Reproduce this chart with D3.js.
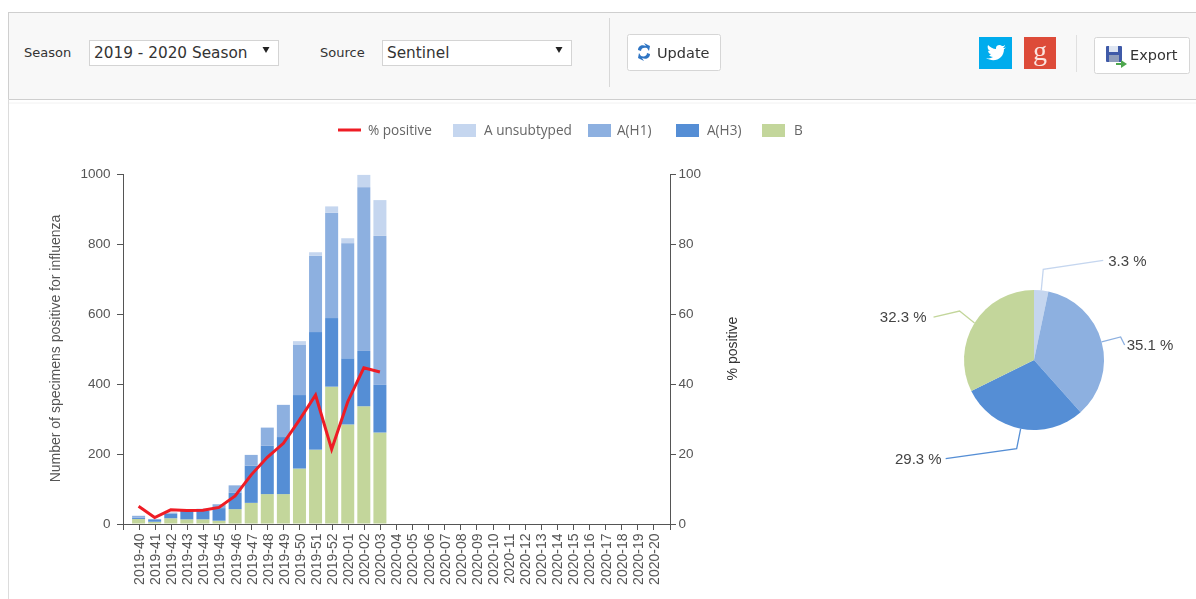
<!DOCTYPE html>
<html>
<head>
<meta charset="utf-8">
<title>Influenza positive specimens</title>
<script src="https://cdn.jsdelivr.net/npm/d3@7"></script>
<style>
  html, body { margin: 0; padding: 0; background: #fff; overflow: hidden; }
  svg { display: block; filter: blur(0.55px); }
  .ui { font-family: "DejaVu Sans", sans-serif; fill: #333; }
  .axis text { font-family: "Liberation Sans", sans-serif; fill: #555; }
  .axis path, .axis line { stroke: #555; shape-rendering: crispEdges; }
</style>
</head>
<body>
<div id="chart"></div>
<script>
// data
var weeks = ["2019-40","2019-41","2019-42","2019-43","2019-44","2019-45","2019-46","2019-47","2019-48","2019-49","2019-50","2019-51","2019-52",
  "2020-01","2020-02","2020-03","2020-04","2020-05","2020-06","2020-07","2020-08","2020-09","2020-10","2020-11","2020-12","2020-13","2020-14",
  "2020-15","2020-16","2020-17","2020-18","2020-19","2020-20"];
var b =          [13, 5, 15, 12, 12, 8, 41, 59, 84, 84, 157, 211, 391, 283, 335, 260];
var aH3 =        [4, 5, 13, 25, 25, 36, 47, 106, 138, 163, 210, 336, 196, 189, 158, 136];
var aH1 =        [5, 3, 3, 3, 5, 11, 21, 31, 52, 92, 143, 218, 301, 329, 468, 426];
var aUnsub =     [0, 0, 1, 0, 0, 0, 0, 0, 0, 0, 11, 10, 18, 14, 35, 102];
var pctPositive = [4.9, 1.7, 3.9, 3.7, 3.8, 4.6, 7.9, 13.9, 18.9, 22.9, 29.6, 36.7, 21.2, 34.8, 44.5, 43.3];

var seriesNames = ["A unsubtyped", "A(H1)", "A(H3)", "B"];
var seriesColors = ["#c5d6ef", "#8db0e0", "#558ed5", "#c3d69b"];
var pieShares = [3.3, 35.1, 29.3, 32.3];
var leftTicks = [0, 200, 400, 600, 800, 1000];
var rightTicks = [0, 20, 40, 60, 80, 100];

var svg = d3.select("#chart").append("svg")
    .attr("width", 1196)
    .attr("height", 599);

// toolbar
svg.append("rect").attr("x", 8.5).attr("y", 12.5).attr("width", 1190).attr("height", 87)
    .attr("fill", "#f8f8f8").attr("stroke", "#cfcfcf");
svg.append("line").attr("x1", 8.5).attr("x2", 8.5).attr("y1", 99).attr("y2", 599).attr("stroke", "#dcdcdc");
svg.append("line").attr("x1", 9).attr("x2", 1196).attr("y1", 103).attr("y2", 103).attr("stroke", "#f2f2f2");

function uiText(x, y, txt, size) {
  return svg.append("text").attr("class", "ui").attr("x", x).attr("y", y)
      .attr("font-size", size).text(txt);
}

function selectBox(x, w, txt) {
  svg.append("rect").attr("x", x + 0.5).attr("y", 40.5).attr("width", w).attr("height", 25)
      .attr("fill", "#fff").attr("stroke", "#d4d4d4");
  uiText(x + 5, 58, txt, 15.3);
  svg.append("path")
      .attr("transform", "translate(" + (x + w - 12) + ",50)")
      .attr("d", "M-3.5,-3L3.5,-3L0,3Z").attr("fill", "#222");
}

function button(x, y, w, h) {
  svg.append("rect").attr("x", x + 0.5).attr("y", y + 0.5).attr("width", w).attr("height", h).attr("rx", 2)
      .attr("fill", "#fff").attr("stroke", "#d6d6d6");
}

uiText(24, 57, "Season", 13);
selectBox(89, 189, "2019 - 2020 Season");
uiText(320, 57, "Source", 13);
selectBox(382, 189, "Sentinel");

svg.append("line").attr("x1", 609.5).attr("x2", 609.5).attr("y1", 18).attr("y2", 87).attr("stroke", "#d8d8d8");
button(627, 34, 93, 36);
// update icon: two small arrows
svg.append("path").attr("d", "M638,50 C638,46 642,44 646,46 L644,43 L650,46 L649,51 L647,48 C644,47 641,48 641,51 Z").attr("fill", "#2f75c4");
svg.append("path").attr("d", "M650,54 C650,58 646,60 642,58 L644,61 L638,58 L639,53 L641,56 C644,57 647,56 647,53 Z").attr("fill", "#2f75c4");
uiText(657, 58, "Update", 14.5);

svg.append("rect").attr("x", 979).attr("y", 37).attr("width", 33).attr("height", 32).attr("fill", "#00aced");
// twitter bird
svg.append("path").attr("fill", "#fff")
    .attr("d", "M1006,47 C1005,48 1004,48 1003,48 C1004,47 1005,46 1005,45 C1004,46 1003,46 1002,46 C1000,44 996,45 996,48 L996,49 C993,49 990,47 988,45 C987,47 988,50 990,51 C989,51 988,51 988,50 C988,52 989,54 991,54 C990,55 990,55 989,55 C990,56 991,57 993,57 C991,58 989,59 986,58 C994,63 1004,59 1004,49 C1005,49 1005,48 1006,47 Z");
svg.append("rect").attr("x", 1024).attr("y", 37).attr("width", 32).attr("height", 32).attr("fill", "#dd4b39");
svg.append("text").attr("x", 1040).attr("y", 60).attr("text-anchor", "middle")
    .attr("font-family", "Liberation Serif, serif").attr("font-size", 28).attr("fill", "#fbe4df").text("g");
svg.append("line").attr("x1", 1076.5).attr("x2", 1076.5).attr("y1", 35).attr("y2", 72).attr("stroke", "#e0e0e0");
button(1094, 37, 95, 36);
// export icon: disk with a green arrow
svg.append("rect").attr("x", 1106).attr("y", 46).attr("width", 16).attr("height", 16).attr("rx", 1).attr("fill", "#3f5aa8");
svg.append("rect").attr("x", 1109).attr("y", 46).attr("width", 9).attr("height", 6).attr("fill", "#dfe6f2");
svg.append("rect").attr("x", 1109).attr("y", 55).attr("width", 10).attr("height", 7).attr("fill", "#8f9dbb");
svg.append("path").attr("d", "M1116,63 L1121,63 L1121,60 L1127,64 L1121,68 L1121,65 L1116,65 Z").attr("fill", "#4da64d");
uiText(1130, 60, "Export", 14.5);

// scales
var x = d3.scalePoint().domain(weeks).range([122.5, 669.5]).padding(1);
var y = d3.scaleLinear().domain([0, 1000]).range([523.5, 173.5]);
var y2 = d3.scaleLinear().domain([0, 100]).range([523.5, 173.5]);

// bars
var rows = b.map(function(v, i) {
  return { week: weeks[i], "B": v, "A(H3)": aH3[i], "A(H1)": aH1[i], "A unsubtyped": aUnsub[i] };
});
var stackOrder = ["B", "A(H3)", "A(H1)", "A unsubtyped"];
var color = d3.scaleOrdinal().domain(seriesNames).range(seriesColors);
var stacked = d3.stack().keys(stackOrder)(rows);
var barWidth = 13;

svg.append("g").selectAll("g")
  .data(stacked)
  .join("g")
    .attr("fill", function(s) { return color(s.key); })
  .selectAll("rect")
  .data(function(s) { return s; })
  .join("rect")
    .attr("x", function(d) { return x(d.data.week) - barWidth / 2; })
    .attr("y", function(d) { return y(d[1]); })
    .attr("width", barWidth)
    .attr("height", function(d) { return y(d[0]) - y(d[1]); });

// axes
var gx = svg.append("g").attr("class", "axis")
    .attr("transform", "translate(0,523.5)")
    .call(d3.axisBottom(x).tickSize(6));
gx.selectAll("text")
    .attr("font-size", 14)
    .attr("text-anchor", "end")
    .attr("transform", "rotate(-90)")
    .attr("x", -10)
    .attr("y", 0)
    .attr("dy", "0.35em");

svg.append("g").attr("class", "axis")
    .attr("transform", "translate(122.5,0)")
    .call(d3.axisLeft(y).tickValues(leftTicks).tickFormat(d3.format("d")).tickSize(6))
    .selectAll("text").attr("font-size", 13.5).attr("x", -12);

svg.append("g").attr("class", "axis")
    .attr("transform", "translate(669.5,0)")
    .call(d3.axisRight(y2).tickValues(rightTicks).tickSize(6))
    .selectAll("text").attr("font-size", 13.5).attr("x", 9);

svg.append("text").attr("transform", "translate(60,348.5) rotate(-90)")
    .attr("text-anchor", "middle")
    .attr("font-family", "Liberation Sans, sans-serif").attr("font-size", 14).attr("fill", "#555")
    .text("Number of specimens positive for influenza");
svg.append("text").attr("transform", "translate(737,348.5) rotate(-90)")
    .attr("text-anchor", "middle")
    .attr("font-family", "Liberation Sans, sans-serif").attr("font-size", 14).attr("fill", "#333")
    .text("% positive");

// % positive line
var line = d3.line()
    .x(function(d, i) { return x(weeks[i]); })
    .y(function(d) { return y2(d); });
svg.append("path").datum(pctPositive)
    .attr("d", line)
    .attr("fill", "none")
    .attr("stroke", "#ee1c25")
    .attr("stroke-width", 3)
    .attr("stroke-linejoin", "miter");

// legend
var legendY = 130;
svg.append("line").attr("x1", 338).attr("x2", 361).attr("y1", legendY).attr("y2", legendY)
    .attr("stroke", "#ee1c25").attr("stroke-width", 3);
function legendText(tx, txt) {
  svg.append("text").attr("x", tx).attr("y", legendY + 5)
      .attr("font-family", "Open Sans, sans-serif").attr("font-size", 13.6).attr("fill", "#666").text(txt);
}
legendText(368, "% positive");
var legendSwatchX = [453, 588, 676, 762];
var legendTextX = [484, 617, 707, 794];
seriesNames.forEach(function(n, i) {
  svg.append("rect").attr("x", legendSwatchX[i]).attr("y", legendY - 6).attr("width", 23).attr("height", 13)
      .attr("fill", seriesColors[i]);
  legendText(legendTextX[i], n);
});

// pie
var pieCx = 1034, pieCy = 360, pieR = 70;
var arcs = d3.pie().sort(null)(pieShares);
var arc = d3.arc().innerRadius(0).outerRadius(pieR);
svg.append("g").attr("transform", "translate(" + pieCx + "," + pieCy + ")")
  .selectAll("path")
  .data(arcs)
  .join("path")
    .attr("d", arc)
    .attr("fill", function(d, i) { return seriesColors[i]; });

// pie labels with leader lines, offsets are relative to the slice edge
var labelAnchor = ["start", "start", "end", "end"];
var labelText = [[67, -30], [25, 3], [-79, 30], [-48, -6]];
var leaderBend = [[2, -21, 62, -30], [19, -5, 23, 3], [-4, 20, -75, 30], [-15, -12, -41, -6]];
arcs.forEach(function(d, i) {
  var mid = (d.startAngle + d.endAngle) / 2;
  var sx = pieCx + pieR * Math.sin(mid);
  var sy = pieCy - pieR * Math.cos(mid);
  var b0 = leaderBend[i];
  svg.append("polyline")
      .attr("points", [[sx, sy], [sx + b0[0], sy + b0[1]], [sx + b0[2], sy + b0[3]]].join(" "))
      .attr("fill", "none")
      .attr("stroke", seriesColors[i])
      .attr("stroke-width", 1.3);
  svg.append("text")
      .attr("x", sx + labelText[i][0])
      .attr("y", sy + labelText[i][1])
      .attr("dy", "0.35em")
      .attr("text-anchor", labelAnchor[i])
      .attr("font-family", "Liberation Sans, sans-serif")
      .attr("font-size", 15)
      .attr("fill", "#444")
      .text(d3.format(".1f")(d.value) + " %");
});
</script>
</body>
</html>
